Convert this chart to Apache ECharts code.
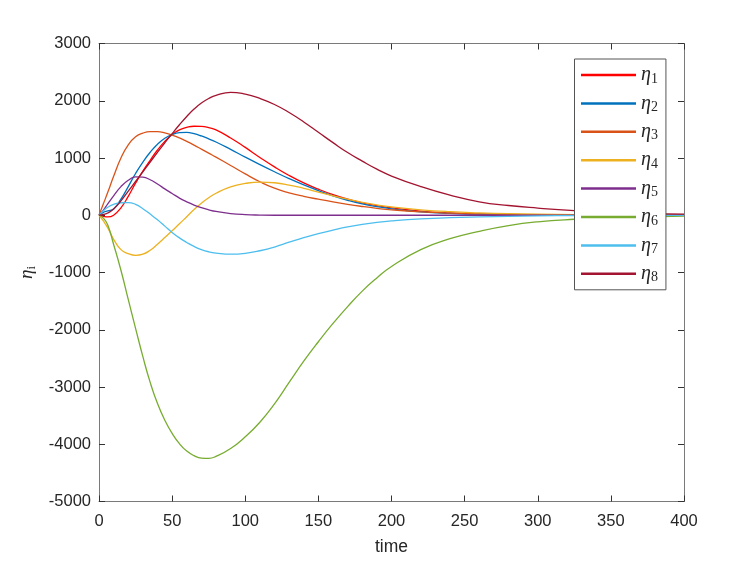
<!DOCTYPE html>
<html>
<head>
<meta charset="utf-8">
<script src="https://cdn.jsdelivr.net/npm/echarts@6/dist/echarts.min.js"></script>
<style>html,body{margin:0;padding:0;background:#fff;}#c{width:750px;height:563px;}</style>
</head>
<body>
<div id="c"></div>
<script>
const time = [0,3,6,10,15,20,25,30,35,40,45,50,55,60,65,70,75,80,90,100,110,120,130,140,150,160,170,180,190,200,220,240,260,280,300,325,350,375,400];
const eta1 = [0,-20,-30,0,130,330,560,770,960,1140,1290,1410,1490,1535,1555,1552,1530,1490,1350,1185,1010,845,695,565,455,360,282,218,168,128,72,40,22,12,6,3,1,0,0];
const eta2 = [0,50,75,110,280,500,730,930,1100,1240,1345,1410,1442,1447,1425,1385,1335,1280,1150,1015,885,760,640,530,430,340,262,198,150,112,60,32,18,10,5,2,1,0,0];
const eta3 = [0,200,400,680,1000,1230,1370,1435,1460,1460,1440,1400,1350,1290,1225,1155,1085,1015,870,722,585,472,392,330,280,233,190,153,121,95,60,38,24,15,9,5,3,2,1];
const eta4 = [0,-100,-220,-420,-600,-670,-700,-680,-610,-505,-390,-270,-150,-25,100,210,305,385,495,555,580,568,528,470,405,340,280,225,180,145,95,62,42,28,18,11,6,4,2];
const eta5 = [0,90,200,340,500,610,672,665,620,545,460,380,300,235,178,132,95,66,30,11,3,0,0,0,0,0,0,0,0,0,0,0,0,0,0,0,0,0,0];
const eta6 = [0,-50,-170,-510,-960,-1470,-1975,-2470,-2920,-3290,-3580,-3810,-3990,-4120,-4200,-4242,-4245,-4212,-4075,-3870,-3615,-3295,-2920,-2550,-2210,-1890,-1595,-1325,-1095,-895,-600,-410,-280,-180,-115,-70,-42,-26,-16];
const eta7 = [0,80,140,190,218,222,190,115,20,-80,-190,-300,-395,-475,-545,-600,-638,-660,-680,-665,-620,-555,-470,-390,-320,-260,-205,-160,-125,-100,-65,-42,-28,-18,-11,-6,-3,-2,-1];
const eta8 = [0,15,40,110,250,420,590,760,930,1100,1265,1425,1580,1725,1855,1960,2040,2095,2148,2115,2040,1935,1795,1630,1450,1268,1095,945,805,685,500,350,235,170,125,80,48,30,20];
const names = ['η1','η2','η3','η4','η5','η6','η7','η8'];
const colors = ['#FF0000','#0072BD','#D95319','#EDB120','#7E2F8E','#77AC30','#4DBEEE','#A2142F'];
const xTicks = [0,50,100,150,200,250,300,350,400];
const yTicks = [-5000,-4000,-3000,-2000,-1000,0,1000,2000,3000];

const allData = [eta1,eta2,eta3,eta4,eta5,eta6,eta7,eta8];
const series = allData.map((arr, i) => ({
  name: names[i],
  type: 'line',
  data: time.map((t, k) => [t, arr[k]]),
  showSymbol: false,
  smooth: 0.5,
  lineStyle: { color: colors[i], width: 1.3 },
  itemStyle: { color: colors[i] },
  emphasis: { disabled: true },
  xAxisIndex: 0, yAxisIndex: 0
}));

const tickFont = { fontFamily: 'Liberation Sans, Arial, sans-serif', fontSize: 16.5, color: '#262626', formatter: v => String(v) };
function axisCommon() {
  return {
    axisLine: { show: true, onZero: false, lineStyle: { color: '#7a7a7a', width: 1 } },
    axisTick: { show: true, inside: true, length: 6, lineStyle: { color: '#333', width: 1 } },
    splitLine: { show: false }
  };
}

const chart = echarts.init(document.getElementById('c'), null, { renderer: 'canvas' });
chart.setOption({
  animation: false,
  backgroundColor: '#ffffff',
  grid: { left: 99, right: 66, top: 43.5, bottom: 61.5, containLabel: false },
  xAxis: [
    Object.assign({
      type: 'value', min: xTicks[0], max: xTicks[xTicks.length-1], interval: 50,
      position: 'bottom',
      axisLabel: Object.assign({ margin: 11 }, tickFont),
      name: 'time', nameLocation: 'middle', nameGap: 37,
      nameTextStyle: { fontFamily: 'Liberation Sans, Arial, sans-serif', fontSize: 17.5, color: '#262626' }
    }, axisCommon()),
    Object.assign({
      type: 'value', min: xTicks[0], max: xTicks[xTicks.length-1], interval: 50,
      position: 'top', axisLabel: { show: false }
    }, axisCommon())
  ],
  yAxis: [
    Object.assign({
      type: 'value', min: yTicks[0], max: yTicks[yTicks.length-1], interval: 1000,
      position: 'left',
      axisLabel: Object.assign({ margin: 8 }, tickFont),
      name: '{e|η}{s|i}', nameLocation: 'middle', nameGap: 56, nameRotate: 90,
      nameTextStyle: {
        rich: {
          e: { fontFamily: 'Liberation Serif, serif', fontStyle: 'italic', fontSize: 19, color: '#262626' },
          s: { fontFamily: 'Liberation Serif, serif', fontSize: 13, color: '#262626', padding: [9, 0, 0, 0] }
        }
      }
    }, axisCommon()),
    Object.assign({
      type: 'value', min: yTicks[0], max: yTicks[yTicks.length-1], interval: 1000,
      position: 'right', axisLabel: { show: false }
    }, axisCommon())
  ],
  legend: {
    orient: 'vertical',
    left: 574.5, top: 59,
    padding: [5, 8, 5, 6.5],
    itemWidth: 55, itemHeight: 2.5, itemGap: 6.4,
    icon: 'rect',
    backgroundColor: '#ffffff',
    borderColor: '#555555', borderWidth: 1,
    data: names,
    formatter: function (n) { return '{e|η}{s|' + n.slice(1) + '}'; },
    textStyle: {
      color: '#262626',
      rich: {
        e: { fontFamily: 'Liberation Serif, serif', fontStyle: 'italic', fontSize: 20, lineHeight: 20, color: '#262626' },
        s: { fontFamily: 'Liberation Serif, serif', fontSize: 14, lineHeight: 20, color: '#262626', padding: [8, 0, 0, 0] }
      }
    },
    selectedMode: false
  },
  series: series
});
</script>
</body>
</html>
